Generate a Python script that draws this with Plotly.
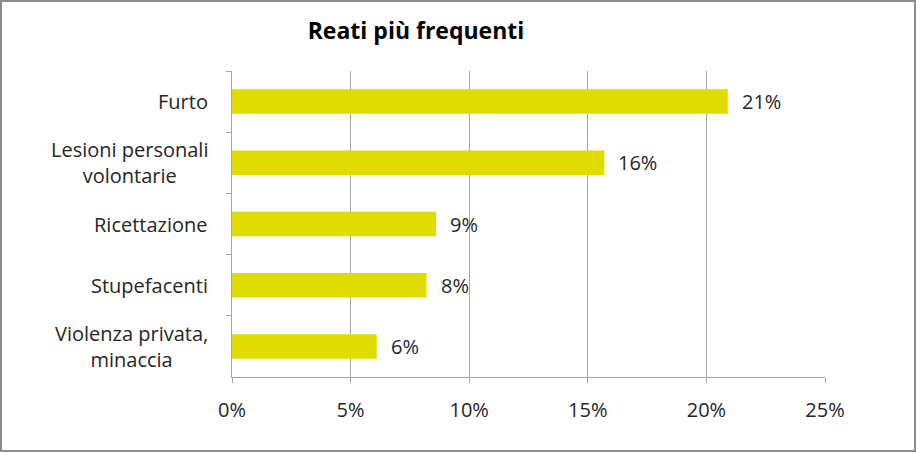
import plotly.graph_objects as go

categories = ["Furto", "Lesioni personali<br>volontarie", "Ricettazione", "Stupefacenti", "Violenza privata,<br>minaccia"]
values = [0.209, 0.157, 0.086, 0.082, 0.061]
labels = ["21%", "16%", "9%", "8%", "6%"]
x_ticks = [0, 0.05, 0.10, 0.15, 0.20, 0.25]
x_tick_labels = ["0%", "5%", "10%", "15%", "20%", "25%"]
title = "Reati più frequenti"

W, H = 916, 452
L, R, T, B = 232, 91, 71, 75
pw, ph = W - L - R, H - T - B

font = "'Open Sans', sans-serif"
txt = "#262626"
fs = 20

fig = go.Figure()
fig.add_trace(go.Bar(
    y=categories, x=values, orientation="h",
    marker=dict(color="#E0DC00", line=dict(width=0)),
    hoverinfo="skip",
))

for c, v, lab in zip(categories, values, labels):
    fig.add_annotation(x=v, y=c, text=lab, showarrow=False, xanchor="left",
                       xshift=12, font=dict(family=font, size=fs, color=txt))
    fig.add_annotation(x=0, xref="paper", y=c, text=c, showarrow=False,
                       xanchor="right", align="center", xshift=-22,
                       font=dict(family=font, size=fs, color=txt))

fig.add_shape(type="rect", xref="paper", yref="paper",
              x0=-(L - 1) / pw, x1=1 + (R - 1) / pw,
              y0=-(B - 1) / ph, y1=1 + (T - 1) / ph,
              line=dict(color="#8C8C8C", width=2), layer="below")

fig.update_layout(
    width=W, height=H,
    margin=dict(l=L, r=R, t=T, b=B),
    paper_bgcolor="white", plot_bgcolor="white",
    showlegend=False,
    bargap=0.6,
    title=dict(text="<b>" + title + "</b>", x=416 / W, xanchor="center",
               y=1 - 31 / H, yanchor="middle", xref="container", yref="container",
               font=dict(family=font, size=23, color="#000000")),
    font=dict(family=font, size=fs, color=txt),
)
fig.update_xaxes(range=[0, 0.25], tickvals=x_ticks, ticktext=x_tick_labels,
                 showgrid=True, gridcolor="#A6A6A6", gridwidth=1,
                 showline=True, linecolor="#A6A6A6", linewidth=1,
                 ticks="outside", ticklen=5, tickcolor="#A6A6A6",
                 ticklabelstandoff=10,
                 zeroline=False, tickfont=dict(size=fs, color=txt))
fig.update_yaxes(autorange="reversed", type="category",
                 showgrid=False, showline=True, linecolor="#A6A6A6", linewidth=1,
                 ticks="outside", ticklen=5, tickcolor="#A6A6A6",
                 tickson="boundaries", showticklabels=False)

fig.write_html("out.html", config={"displayModeBar": False},
               post_script="document.body.style.margin='0';document.body.style.overflow='hidden';")
